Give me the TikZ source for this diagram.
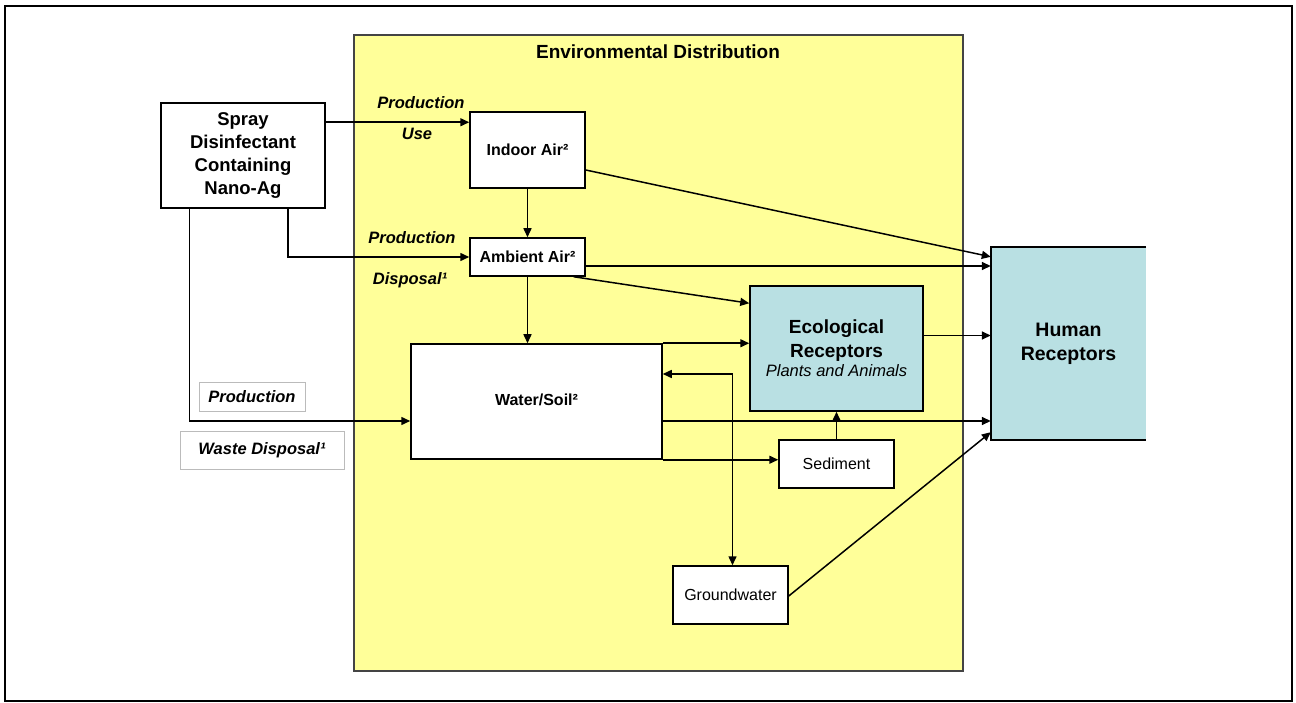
\documentclass[tikz,border=0pt]{standalone}
\usepackage{fontspec}
\setmainfont{Liberation Sans}
\usetikzlibrary{arrows.meta,calc}
\definecolor{envyellow}{HTML}{FFFF99}
\definecolor{recblue}{HTML}{B9E0E3}
\definecolor{lblgray}{HTML}{BBBBBB}
\definecolor{envgray}{HTML}{444444}
\tikzset{
  box/.style={draw=black,line width=1.5pt,fill=white,inner sep=0pt,align=center,font=\fontsize{16}{19}\selectfont\bfseries},
  plainbox/.style={box,font=\fontsize{16}{19}\selectfont},
  recbox/.style={box,fill=recblue,font=\fontsize{19}{24}\selectfont\bfseries},
  lblbox/.style={draw=lblgray,line width=0.8pt,fill=white,inner sep=0pt,font=\fontsize{16.5}{19}\selectfont\bfseries\itshape},
  lbl/.style={inner sep=0pt,font=\fontsize{16.5}{19}\selectfont\bfseries\itshape},
  arr/.style={line width=1.5pt,-{Triangle[length=9pt,width=8pt]}},
  darr/.style={line width=1.5pt,{Triangle[length=9pt,width=8pt]}-{Triangle[length=9pt,width=8pt]}},
}
\begin{document}
\begin{tikzpicture}[x=1pt,y=-1pt]
\useasboundingbox (0,0) rectangle (1296,703);
% outer frame
\draw[line width=2pt] (5,6) rectangle (1292,701);
% environmental distribution
\node[draw=envgray,line width=1.4pt,fill=envyellow,minimum width=609pt,minimum height=636pt,inner sep=0pt] (env) at (658.5,353) {};
\node[inner sep=0pt,font=\fontsize{19}{22}\selectfont\bfseries] (envtitle) at (658,52) {Environmental Distribution};
% boxes
\node[box,minimum width=164pt,minimum height=105pt,font=\fontsize{18.5}{23}\selectfont\bfseries] (spray) at (243,155.5) {Spray\\Disinfectant\\Containing\\Nano-Ag};
\node[box,minimum width=115pt,minimum height=76pt] (indoor) at (527.5,150) {Indoor Air²};
\node[box,minimum width=115pt,minimum height=38pt] (ambient) at (527.5,257) {Ambient Air²};
\node[box,minimum width=251pt,minimum height=115pt] (water) at (536.5,401.5) {\raisebox{3pt}{Water/Soil²}};
\node[recbox,minimum width=173pt,minimum height=125pt] (eco) at (836.5,348.5) {Ecological\\Receptors\\[-5pt]{\fontsize{16.5}{19}\selectfont\mdseries\itshape Plants and Animals}};
\node[fill=recblue,inner sep=0pt,minimum width=155pt,minimum height=193pt,align=center,font=\fontsize{19.5}{24}\selectfont\bfseries] (human) at (1068.5,343.5) {Human\\Receptors};
\draw[line width=1.5pt] (human.north east) -- (human.north west) -- (human.south west) -- (human.south east);
\node[plainbox,minimum width=115pt,minimum height=48pt] (sediment) at (836.5,464) {Sediment};
\node[plainbox,minimum width=115pt,minimum height=58pt] (ground) at (730.5,595) {Groundwater};
% labels
\node[lbl] (l1) at (421,103) {Production};
\node[lbl] (l2) at (417,134) {Use};
\node[lbl] (l3) at (412,238) {Production};
\node[lbl] (l4) at (410,280) {Disposal¹};
\node[lblbox,minimum width=106pt,minimum height=29pt] (l5) at (252,396.5) {Production};
\node[lblbox,minimum width=164pt,minimum height=38pt] (l6) at (262,450) {Waste Disposal¹};
% helper coordinates
\coordinate (pIn) at ([yshift=-11pt]indoor.north west);
\coordinate (pSW) at ([xshift=29pt]spray.south west);
\coordinate (pSA) at ([xshift=-38pt]spray.south east);
\coordinate (pWin) at ([yshift=-19.5pt]water.west);
\coordinate (pIout) at ([yshift=-20pt]indoor.east);
\coordinate (pHin1) at ([yshift=-10pt]human.north west);
\coordinate (pAout) at ([yshift=-9pt]ambient.east);
\coordinate (pAeco) at ([xshift=-12pt]ambient.south east);
\coordinate (pEin) at ([yshift=-18pt]eco.north west);
\coordinate (pWout) at ([yshift=-19.5pt]water.east);
\coordinate (pEout) at ([yshift=13pt]eco.east);
\coordinate (pGup) at ([xshift=2pt]ground.north);
\coordinate (pWgw) at ([yshift=27.5pt]water.east);
\coordinate (pHgw) at ([yshift=8pt]human.south west);
% connectors
\draw[arr] (spray.east |- pIn) -- (pIn);
\draw[arr] (pSA) |- (ambient.west);
\draw[arr] (pSW) |- (pWin);
\draw[arr] (indoor.south) -- (ambient.north);
\draw[arr] (ambient.south) -- (ambient.south |- water.north);
\draw[arr] (pIout) -- (pHin1);
\draw[arr] (pAout) -- (human.west |- pAout);
\draw[arr] (pAeco) -- (pEin);
\draw[arr] (water.north east) -- (eco.west |- water.north east);
\draw[arr] (pWout) -- (human.west |- pWout);
\draw[arr] (water.south east) -- (sediment.west |- water.south east);
\draw[arr] (sediment.north) -- (eco.south);
\draw[arr] (pEout) -- (human.west |- pEout);
\draw[darr] (pGup) |- (pWgw);
\draw[arr] ([yshift=-1pt]ground.east) -- (pHgw);
\end{tikzpicture}
\end{document}
